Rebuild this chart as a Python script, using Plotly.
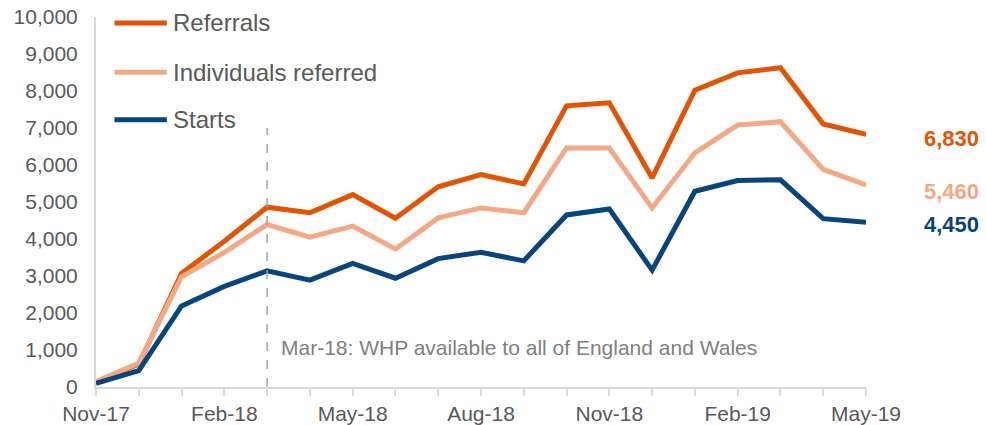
import plotly.graph_objects as go

months = ['Nov-17', 'Dec-17', 'Jan-18', 'Feb-18', 'Mar-18', 'Apr-18', 'May-18', 'Jun-18',
          'Jul-18', 'Aug-18', 'Sep-18', 'Oct-18', 'Nov-18', 'Dec-18', 'Jan-19', 'Feb-19',
          'Mar-19', 'Apr-19', 'May-19']

referrals = [130, 620, 3070, 3940, 4860, 4710, 5200, 4560, 5410, 5740, 5490, 7600, 7680,
             5650, 8020, 8490, 8630, 7110, 6830]
individuals = [150, 650, 2980, 3640, 4390, 4050, 4350, 3730, 4570, 4840, 4710, 6460, 6460,
               4840, 6330, 7080, 7170, 5880, 5460]
starts = [100, 440, 2190, 2720, 3140, 2890, 3340, 2940, 3470, 3640, 3410, 4650, 4810,
          3160, 5290, 5580, 5600, 4550, 4450]

series = [('Referrals', referrals, '#E25303'),
          ('Individuals referred', individuals, '#F3A986'),
          ('Starts', starts, '#08457E')]

x = list(range(len(months)))
ticktext = [m if i % 3 == 0 else '' for i, m in enumerate(months)]

fig = go.Figure()
legend_y = [0.984, 0.851, 0.722]
end_shift = [-4, -7, -2]
for (name, vals, col), ly, ys in zip(series, legend_y, end_shift):
    fig.add_trace(go.Scatter(x=x, y=vals, name=name, mode='lines', showlegend=False,
                             line=dict(color=col, width=5)))
    # end value label
    fig.add_annotation(x=x[-1], y=vals[-1], text='<b>%s</b>' % f'{vals[-1]:,}',
                       xref='x', yref='y', showarrow=False, xanchor='left',
                       xshift=56, yshift=ys, font=dict(size=22, color=col))
    # hand-made legend entry (longer line swatch than plotly's)
    fig.add_shape(type='line', xref='paper', yref='paper', x0=0.024, x1=0.092,
                  y0=ly, y1=ly, line=dict(color=col, width=5))
    fig.add_annotation(x=0.097, y=ly, xref='paper', yref='paper', showarrow=False,
                       xanchor='left', yanchor='middle', text=name,
                       font=dict(size=24, color='#595959'))

fig.add_shape(type='line', x0=4, x1=4, y0=0, y1=7000, xref='x', yref='y',
              line=dict(color='#a6a6a6', width=1.5, dash='dash'))
fig.add_annotation(x=4, y=1060, xref='x', yref='y', showarrow=False, xanchor='left',
                   xshift=12, text='Mar-18: WHP available to all of England and Wales',
                   font=dict(size=21, color='#808080'))

fig.update_layout(
    width=986, height=425,
    margin=dict(l=96, r=120, t=17, b=38),
    plot_bgcolor='white', paper_bgcolor='white',
    font=dict(family='Liberation Sans, Arial', color='#595959', size=21),
    showlegend=False,
)
fig.update_xaxes(range=[0, 18], tickvals=x, ticktext=ticktext, showgrid=False,
                 showline=True, linecolor='#d9d9d9', linewidth=2, ticks='outside',
                 tickcolor='#d9d9d9', ticklen=7, tickwidth=2, zeroline=False,
                 automargin=False)
fig.update_yaxes(range=[0, 10000], dtick=1000, tickformat=',', showgrid=False,
                 showline=True, linecolor='#d9d9d9', linewidth=2, zeroline=False,
                 ticks='', ticklabelstandoff=12, automargin=False)

# drop the browser's default body margin so the figure sits at the page corner
fig.write_html('out.html', config={'displayModeBar': False},
               post_script="document.body.style.margin='0';")
